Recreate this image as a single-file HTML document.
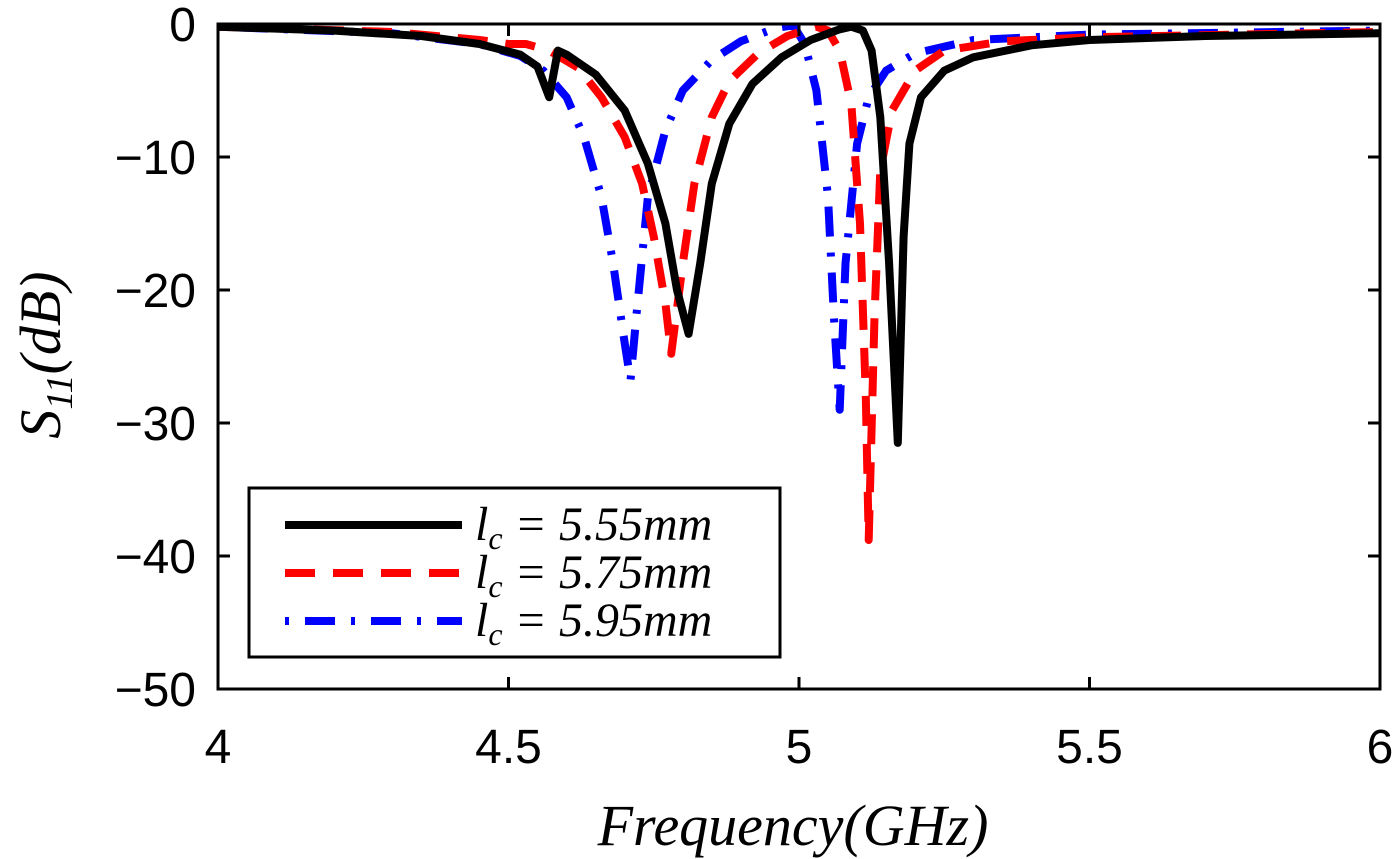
<!DOCTYPE html>
<html><head><meta charset="utf-8"><style>
body{margin:0;background:#fff}
svg{display:block}
.tk{font-family:"Liberation Sans",sans-serif;font-size:48px;fill:#000}
.it{font-family:"Liberation Serif",serif;font-style:italic;fill:#000}
</style></head><body>
<svg id="chart" width="1400" height="859" viewBox="0 0 1400 859">
<g id="plot"></g>
<g id="axes"></g>
<g id="legend">
<rect x="249" y="488" width="531" height="169" fill="#fff" stroke="#000" stroke-width="3"/>
<line x1="285" y1="525" x2="462" y2="525" stroke="#000" stroke-width="8"/>
<text x="475" y="540" class="it" font-size="48">l<tspan font-size="32" dy="9">c</tspan><tspan dy="-9"> = 5.55mm</tspan></text>
<line x1="285" y1="573" x2="462" y2="573" stroke="#f00" stroke-width="8" stroke-dasharray="30 18"/>
<text x="475" y="588" class="it" font-size="48">l<tspan font-size="32" dy="9">c</tspan><tspan dy="-9"> = 5.75mm</tspan></text>
<line x1="285" y1="621" x2="462" y2="621" stroke="#00f" stroke-width="8" stroke-dasharray="4 16 30 16"/>
<text x="475" y="636" class="it" font-size="48">l<tspan font-size="32" dy="9">c</tspan><tspan dy="-9"> = 5.95mm</tspan></text>
</g>
<text x="793" y="845" text-anchor="middle" class="it" font-size="58">Frequency(GHz)</text>
<text transform="translate(60,355) rotate(-90)" text-anchor="middle" class="it" font-size="58">S<tspan font-size="38" dy="12">11</tspan><tspan dy="-12">(dB)</tspan></text>
</svg>
<script>
const xTicks=[4,4.5,5,5.5,6];
const xTickLabels=["4","4.5","5","5.5","6"];
const yTicks=[0,-10,-20,-30,-40,-50];
const yTickLabels=["0","\u221210","\u221220","\u221230","\u221240","\u221250"];
const freqBlack=[4.0,4.2,4.35,4.45,4.52,4.55,4.57,4.585,4.6,4.65,4.7,4.74,4.77,4.79,4.81,4.83,4.85,4.88,4.92,4.97,5.02,5.07,5.09,5.11,5.125,5.14,5.155,5.17,5.18,5.19,5.21,5.25,5.3,5.4,5.5,5.7,6.0];
const s11Black=[-0.2,-0.5,-0.9,-1.5,-2.3,-3.2,-5.5,-2.0,-2.3,-3.8,-6.5,-10.5,-15,-20,-23.3,-18,-12,-7.5,-4.5,-2.5,-1.2,-0.4,-0.2,-0.5,-2,-7,-18,-31.5,-16,-9,-5.5,-3.5,-2.5,-1.6,-1.2,-0.9,-0.7];
const freqRed=[4.0,4.3,4.45,4.5,4.53,4.57,4.62,4.66,4.7,4.73,4.75,4.77,4.78,4.8,4.82,4.85,4.88,4.93,4.98,5.03,5.05,5.07,5.09,5.105,5.115,5.12,5.13,5.14,5.16,5.2,5.25,5.35,5.5,6.0];
const s11Red=[-0.2,-0.6,-1.2,-1.5,-1.5,-2.0,-3.3,-5.5,-8.5,-12,-16,-21,-24.8,-18,-12,-7,-4.3,-2.2,-0.9,-0.2,-0.5,-2,-6,-15,-28,-38.8,-22,-11,-6.5,-3.5,-2,-1.3,-1.0,-0.6];
const freqBlue=[4.0,4.3,4.45,4.52,4.56,4.6,4.63,4.66,4.68,4.7,4.71,4.72,4.74,4.77,4.8,4.85,4.9,4.96,4.99,5.01,5.03,5.05,5.06,5.07,5.08,5.1,5.12,5.15,5.2,5.3,5.5,6.0];
const s11Blue=[-0.2,-0.7,-1.5,-2.4,-3.5,-5.5,-8.5,-13,-18,-24,-26.8,-22,-13,-8,-5,-2.7,-1.3,-0.3,-0.1,-1.5,-5,-13,-22,-29,-18,-9,-5.5,-3.5,-2.2,-1.2,-0.8,-0.5];

const X0=218,X1=1380,Y0=24,Y1=689;
const xs=f=>X0+(f-4)/2*(X1-X0);
const ys=v=>Y0+(0-v)/50*(Y1-Y0);
const NS="http://www.w3.org/2000/svg";
const plot=document.getElementById('plot'),axes=document.getElementById('axes');
function mk(tag,attrs,parent){const e=document.createElementNS(NS,tag);for(const k in attrs)e.setAttribute(k,attrs[k]);parent.appendChild(e);return e;}
const clip=mk('clipPath',{id:'clp'},plot);mk('rect',{x:X0,y:Y0,width:X1-X0,height:Y1-Y0},clip);
const series=[[freqBlue,s11Blue,'#00f','4 16 30 16','curve-595'],[freqRed,s11Red,'#f00','30 18','curve-575'],[freqBlack,s11Black,'#000','none','curve-555']];
series.forEach(s=>{
 const d=s[0].map((f,i)=>(i?'L':'M')+xs(f).toFixed(1)+','+ys(s[1][i]).toFixed(1)).join(' ');
 const p=mk('path',{d:d,fill:'none',stroke:s[2],'stroke-width':8,'stroke-dasharray':s[3],'stroke-linejoin':'round','clip-path':'url(#clp)'},plot);
 
 
});
mk('rect',{x:X0,y:Y0,width:X1-X0,height:Y1-Y0,fill:'none',stroke:'#000','stroke-width':3},axes);
xTicks.forEach((t,i)=>{
 mk('line',{x1:xs(t),y1:Y1,x2:xs(t),y2:Y1-12,stroke:'#000','stroke-width':3},axes);
 mk('line',{x1:xs(t),y1:Y0,x2:xs(t),y2:Y0+12,stroke:'#000','stroke-width':3},axes);
 const tx=mk('text',{x:xs(t),y:763,'text-anchor':'middle',class:'tk'},axes);tx.textContent=xTickLabels[i];
 
 
});
yTicks.forEach((t,i)=>{
 mk('line',{x1:X0,y1:ys(t),x2:X0+12,y2:ys(t),stroke:'#000','stroke-width':3},axes);
 mk('line',{x1:X1,y1:ys(t),x2:X1-12,y2:ys(t),stroke:'#000','stroke-width':3},axes);
 const tx=mk('text',{x:196,y:ys(t)+17,'text-anchor':'end',class:'tk'},axes);tx.textContent=yTickLabels[i];
 
 
});
</script>
</body></html>
